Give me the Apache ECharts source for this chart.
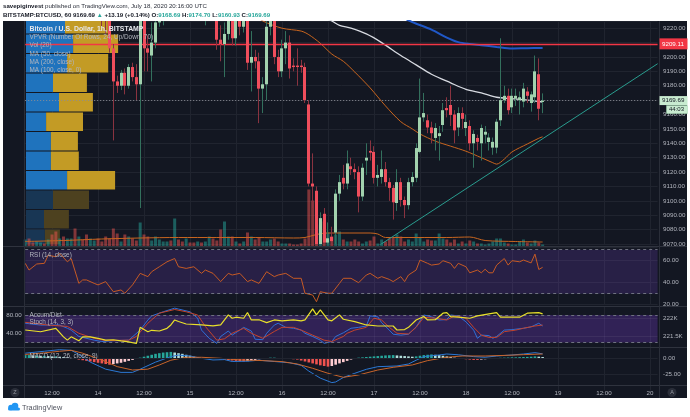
<!DOCTYPE html>
<html><head><meta charset="utf-8">
<script src="https://cdn.jsdelivr.net/npm/echarts@6/dist/echarts.min.js"></script>
<style>html,body{margin:0;padding:0;background:#fff}#c{width:690px;height:417px}</style>
</head><body><div id="c"></div>
<script>
// ---------- DATA ----------
var N_CATS = 166; // hourly bars Jul 13 05:00 .. Jul 20 02:00
var categories = [];
(function(){var t0=Date.UTC(2020,6,13,5);for(var k=0;k<N_CATS;k++){var d=new Date(t0+k*3600000);var h=d.getUTCHours();categories.push(d.getUTCDate()+' '+(h<10?'0':'')+h+':00');}})();

var opens=[9250,9256,9252,9245,9250,9265,9258,9275,9266,9250,9258,9244,9248,9255,9238,9244,9240,9235,9242,9246,
9238,9236,9230,9206,9183,9180,9189,9180,9193,9186,9181,9236,9206,9201,9210,9224,9238,9244,9252,9248,
9276,9268,9260,9265,9252,9246,9250,9238,9240,9246,9232,9212,9209,9216,9228,9213,9228,9221,9230,9196,
9200,9197,9178,9181,9221,9232,9200,9190,9206,9210,9194,9194,9194,9193,9167,9112,9107,9066,9091,9071,
9075,9078,9105,9116,9112,9124,9122,9120,9103,9128,9134.7,9134,9116,9116.6,9122,9113,9109,9098.5,9113,9100.6,
9097,9113,9116,9134,9158,9156,9151,9143.7,9145,9152.7,9164.5,9166.6,9160,9151,9161,9150.6,9152,9140,9143.7,9140,
9146,9140.9,9137,9137,9156,9170,9173,9165,9171,9170,9169,9176,9168,9172,9188,9168.69];
var highs=[9262,9265,9258,9255,9270,9272,9280,9285,9270,9262,9265,9252,9260,9258,9248,9250,9246,9245,9250,9250,
9245,9240,9234,9209,9187,9191,9192,9195,9196,9195,9242,9240,9215,9224,9232,9245,9250,9256,9262,9280,
9285,9275,9270,9268,9258,9255,9256,9245,9250,9252,9240,9222,9224,9234,9236,9234,9235,9238,9235,9218,
9205,9203,9186,9226,9240,9236,9205,9212,9218,9215,9199,9206,9198,9196,9170,9133,9110,9092,9095,9085,
9082,9108,9118,9125,9135,9130,9126,9124,9126,9140,9142,9138,9125,9135,9127,9116,9111,9122,9116,9103,
9116,9120,9140,9185,9175,9160,9155,9154,9152,9168,9172,9180,9163,9165,9165,9160,9156,9149,9146,9153,
9152,9147,9144,9157,9213,9180,9178,9178,9178,9176,9182,9179,9176,9201,9199,9174.70];
var lows=[9244,9248,9240,9238,9246,9255,9255,9262,9245,9244,9240,9236,9242,9232,9233,9236,9230,9232,9238,9234,
9221,9216,9203,9142,9175,9177,9174,9178,9183,9170,9095,9190,9190,9183,9206,9221,9222,9238,9244,9245,
9262,9255,9252,9248,9240,9238,9232,9222,9230,9225,9205,9197,9186,9212,9208,9208,9215,9217,9191,9176,
9192,9154,9161,9170,9215,9195,9186,9186,9195,9185,9190,9180,9189,9168,9110,9095,9060,9058,9065,9062,
9066,9070,9100,9108,9108,9118,9115,9092,9100,9118,9128,9112,9110,9112,9110,9100,9087,9093,9096,9088,
9094,9110,9113,9133,9155,9147,9140,9135,9128,9148,9158,9152,9140,9145,9150,9145,9135,9123,9135,9128,
9140,9135,9132,9133,9152,9168,9160,9161,9166,9160,9165,9168,9162,9168,9156,9160.93];
var closes=[9256,9252,9245,9250,9265,9258,9275,9266,9250,9258,9244,9248,9255,9238,9244,9240,9235,9242,9246,9238,
9236,9230,9206,9183,9180,9189,9180,9193,9186,9181,9236,9206,9203,9210,9224,9238,9244,9252,9248,9276,
9268,9260,9265,9252,9246,9250,9238,9240,9246,9232,9212,9209,9216,9228,9213,9228,9221,9230,9196,9200,
9197,9178,9181,9221,9232,9200,9190,9206,9210,9192,9193,9193,9193,9170,9112,9110,9066,9088,9071,9074,
9072,9105,9113,9112,9126,9122,9120,9103,9123,9130,9133.5,9116,9118,9122,9113,9109,9099,9113,9100.6,9097,
9113,9116.6,9136.7,9158,9161,9151,9147,9150.6,9147,9163,9163,9159.7,9149,9161,9157,9154.8,9140,9146.5,9141,9150.6,
9148,9144,9141,9155,9170,9173,9163,9173,9173,9172,9178,9173,9174,9190,9164,9169.69];
var volumes=[140,160,80,100,80,60,140,240,300,160,200,160,160,360,200,140,240,160,120,160,
100,200,160,360,260,100,240,200,160,120,480,240,200,120,200,140,100,100,120,560,
140,100,160,80,80,100,80,100,200,160,120,340,500,200,200,100,
60,100,280,200,140,180,100,100,140,160,100,60,60,60,40,40,60,160,1140,920,
960,440,500,280,200,240,300,140,100,100,140,100,60,100,120,200,60,140,100,160,
180,240,200,100,140,100,260,180,100,140,120,120,260,160,140,80,140,60,100,60,
120,100,60,60,40,60,100,160,160,80,60,40,40,100,140,80,60,120,80,40];
var volMAPoints=[[0,100],[10,120],[20,150],[30,170],[40,180],[50,180],[60,180],[70,170],[73,180],[76,240],[79,270],[90,270],[92,250],[94,180],[110,180],[116,190],[120,120],[128,100],[135,90]];
var ma50Points=[[50,9240],[58,9232],[62,9225],[67,9220],[72,9218],[74,9215.5],[77,9209.5],[80,9202],[83,9197],[86,9189.5],[90,9178.5],[94,9166],[98,9155],[101,9150],[103,9146.5],[107,9141.5],[111,9138],[115,9134.5],[119,9130],[122,9126.5],[123,9125.5],[125,9129],[127,9134],[131,9139.5],[134,9143.5],[135,9144.5]];
var ma100Points=[[74,9232],[80,9225],[82,9222],[85,9220],[89,9216],[93,9210],[98,9201],[102,9194.5],[106,9188],[111,9182],[115,9177.5],[119,9175],[123,9172],[127,9171],[131,9170],[135,9168.7]];
var ma200Points=[[96,9232],[100,9225.5],[106,9219],[110,9213.5],[113,9210.3],[116,9209],[119,9208.2],[123,9207],[127,9205.9],[131,9206.1],[135,9206.2]];
var trendPoints=[[92,9068.4],[165,9195.3]];
var resistanceLevel=9209.11, lastPrice=9169.69, countdown='44:03';

var vpvrRowLow=[9215.96,9202.41,9188.86,9175.30,9161.75,9148.20,9134.65,9121.09,9107.54,9093.99,9080.43,9066.88];
var vpvrRowSize=13.55;
var vpvrUp=[13,15.7,13.7,9,11,6.7,8.3,8.3,13.7,9,6,6.3];
var vpvrDown=[14.3,15,13.7,11.3,11.3,12.3,9,9.3,16,12,8.3,5];
var vpvrInValueArea=[1,1,1,1,1,1,1,1,1,0,0,0];

var rsiPoints=[[0,57.6],[1,51.5],[3,57],[5,57.6],[6,65],[8,63.6],[9,66.7],[11,59],[12,62],[14,39.4],[15,42.5],[16,42.5],[18,39.4],[19,38],[21,41],[23,31.8],[25,33.4],[26,30.4],[28,38],[30,48.5],[32,45.5],[33,50],[35,54.5],[37,59],[39,62],[40,54.5],[42,53],[44,54.5],[46,48.5],[47,51.5],[49,48.5],[51,41],[53,48.5],[54,47],[56,48.5],[58,41],[59,42.5],[61,39.4],[63,50],[65,45.5],[66,47],[68,48.5],[70,44],[72,44],[73,30.4],[75,28.8],[76,22.7],[77,31.8],[79,30.4],[80,30.4],[82,39.4],[83,44],[85,44],[87,40],[89,47],[90,48.5],[92,44],[93,45.5],[95,43],[96,41],[98,45.5],[99,41],[100,47],[102,51.5],[103,60.6],[105,57.6],[106,56],[108,57],[109,60],[111,57.6],[112,53],[113,57.6],[115,54.5],[116,49],[118,51.5],[119,49],[120,52.2],[121,49],[122,49],[123,56],[125,62],[126,56],[127,60],[129,59],[130,60.6],[132,58],[133,66],[134,52],[135,54]];
var stochKPoints=[[0,62],[4,58],[9,58],[11,51],[12,47],[14,33],[18,25],[20,22],[23,24],[27,25],[30,47],[32,69],[33,78],[36,87],[39,95],[40,93],[43,87],[45,73],[46,47],[48,29],[50,18],[51,33],[53,45],[54,36],[56,47],[57,53],[59,45],[60,27],[62,26],[63,40],[65,58],[66,62],[68,53],[70,51],[72,47],[73,40],[75,33],[77,25],[78,18],[80,22],[81,33],[83,41],[85,51],[87,53],[89,56],[90,78],[92,76],[93,63],[95,47],[96,38],[98,36],[100,38],[102,54],[104,80],[106,76],[108,69],[110,70],[111,80],[113,78],[115,65],[117,47],[118,29],[119,36],[121,35],[122,29],[123,33],[125,47],[127,48],[130,51],[132,54],[134,62],[135,56]];
var stochDPoints=[[0,64],[6,58],[11,55],[14,40],[18,29],[21,24],[27,25],[29,33],[32,62],[35,84],[39,92],[42,87],[45,80],[47,55],[50,25],[52,28],[54,40],[57,51],[59,40],[62,29],[65,44],[67,53],[70,53],[72,47],[75,36],[78,25],[80,22],[83,33],[84,40],[86,47],[89,53],[91,73],[93,69],[95,53],[97,40],[100,38.5],[102,53],[104,75],[107,73],[110,69],[112,78],[115,73],[117,53],[119,36],[121,31],[123,31],[125,43.5],[128,47],[130,51],[133,56],[135,58]];
var adPoints=[[0,221667],[4,221620],[8,221714],[10,221480],[11,221389],[12,221480],[14,221370],[15,221480],[17,221480],[19,221440],[21,221389],[23,221400],[25,221370],[27,221343],[29,221296],[30,221741],[32,221620],[33,221660],[35,221640],[37,221714],[38,221806],[39,221944],[40,221900],[42,221833],[46,221806],[49,221780],[51,221806],[53,222083],[54,221990],[55,222019],[57,221991],[58,222147],[59,221944],[61,221950],[63,221870],[65,221944],[67,221920],[70,221944],[72,221917],[73,221944],[75,222250],[76,222083],[77,222222],[79,221944],[80,221920],[82,222083],[83,221963],[86,221898],[89,221806],[92,221778],[96,221778],[97,221667],[99,221680],[100,221741],[102,221944],[104,222037],[105,221944],[107,221950],[109,222130],[110,222147],[111,222037],[113,222019],[116,221991],[118,222056],[121,222111],[123,222147],[124,222019],[127,222019],[129,222019],[131,222130],[134,222147],[135,222111]];
var macdPoints=[[0,8],[5,11],[9,13.5],[12,12.5],[14,6],[17,-6],[21,-17],[25,-22],[28,-22],[30,-17],[34,-6],[38,2.6],[40,5],[43,3.5],[46,0],[49,-2.6],[52,-2],[54,-5],[58,-4.5],[61,-3],[65,-5],[69,-7],[72,-11],[74,-20],[77,-31],[80,-38],[81,-37],[83,-30],[86,-23.4],[89,-17.2],[92,-13.1],[97,-12],[100,-8.9],[102,-3],[104,2.6],[108,5.2],[110,6.7],[113,5.5],[117,2.6],[120,1.6],[123,3.6],[127,5.2],[130,6.7],[133,8.8],[135,7]];
var signalPoints=[[0,6],[5,8.5],[9,11],[12,12.5],[15,8],[20,-2.6],[24,-13],[28,-18.3],[32,-17],[35,-10.4],[38,-3],[42,1.6],[46,1.6],[51,0],[56,-2.6],[62,-3.6],[67,-5.2],[71,-8.9],[75,-15.6],[79,-23.4],[83,-29.7],[87,-26],[92,-18.3],[96,-14.1],[101,-10.4],[105,-3.6],[110,1.6],[114,3.6],[120,3.6],[126,4.7],[130,5.7],[135,6.7]];
var macdHist=[5,5,4.5,4.5,4,4,3.5,3,3,2.5,2,1.5,0.5,
-1,-2,-3,-4,-5,-6,-7,-8,-9,-10,
-9,-8,-7,-5.5,-4,-2.5,-1,
1,2.5,4,5.5,7,8,9,9.5,10,
9,8,7,5.5,4,2.5,1,
0.5,0.3,-0.3,-0.5,
-1,-1.5,-2,-3,-3.5,-4,-4.5,-5,
-4.5,-3.5,-2.5,-1.5,-0.5,
0.5,1,1,0.5,0.3,-0.5,-1,-1.5,
-2,-3.5,-5,-6.5,-8,-9.5,-11,-12,-13,
-12,-10,-8,-6,-4,-2,
0.5,1,1.5,2,2.5,3,3.5,4,4.5,4.8,5,
4.5,4,3.5,3,2.5,
3,4,5,5.5,6,
5.5,5,4,3,2,1,
-0.5,-1,-1.5,-2,-2.5,-2.5,
-2,-1.5,-1,-0.5,
0.3,0.8,1,1.2,1.5,1.5,1.8,2,2.2,2.5,3,2.5,2];

// ---------- BUILD ----------
var FONT='"Liberation Sans", Arial, sans-serif';
var AX='#b2b5be', GRIDC='#20242f';
function sparse(pts){var a=[];for(var k=0;k<N_CATS;k++)a.push(null);pts.forEach(function(p){a[p[0]]=p[1];});return a;}
function isMajor(v){var h=v.split(' ')[1];return h==='00:00'||h==='12:00';}
function timeFmt(v){var p=v.split(' ');return p[1]==='00:00'?p[0]:(p[1]==='12:00'?'12:00':'');}

var candleData=opens.map(function(o,i){return [i,o,closes[i],lows[i],highs[i]];});
var volData=volumes.map(function(v,i){return {value:v,itemStyle:{color:closes[i]>=opens[i]?'rgba(38,166,154,0.5)':'rgba(239,83,80,0.5)'}};});
var vpvrData=vpvrRowLow.map(function(lo,k){return [lo,lo+vpvrRowSize,vpvrUp[k],vpvrDown[k],vpvrInValueArea[k]];});
var histData=macdHist.map(function(v,i){var p=i>0?macdHist[i-1]:v;var c=v>=0?(v>=p?'#26a69a':'#b2dfdb'):(v<=p?'#ef5350':'#ffcdd2');return {value:v,itemStyle:{color:c}};});

var L=25.2,W=632.4;
function g(top,h){return {left:L,width:W,top:top,height:h,containLabel:false,outerBoundsMode:'none'};}
function catAxis(gi,split){return {type:'category',gridIndex:gi,data:categories,boundaryGap:false,axisLine:{show:false},axisTick:{show:false},axisLabel:{show:false},splitLine:{show:!!split,interval:function(i,v){return isMajor(v);},lineStyle:{color:GRIDC,width:1}}};}
function lbl(fmt,extra){var o={color:AX,fontSize:6.2,fontFamily:FONT,formatter:fmt,showMinLabel:true,showMaxLabel:true};for(var k in extra)o[k]=extra[k];return o;}
function rs(bold,color){return {fontWeight:bold?'bold':'normal',fontSize:6.1,lineHeight:7,color:color,fontFamily:FONT};}

var option={
  backgroundColor:'#ffffff',animation:false,
  title:[
    {left:3,top:2.5,padding:0,text:'{b|savepiginvest} {n|published on TradingView.com, July 18, 2020 20:16:00 UTC}',
     textStyle:{lineHeight:7,fontSize:6.1,rich:{b:rs(true,'#131722'),n:rs(false,'#2a2e39')}}},
    {left:3,top:11.5,padding:0,text:'{b|BITSTAMP:BTCUSD, 60} {n|9169.69} {g|▲} {n|+13.19 (+0.14%)} {n|O:}{t|9168.69} {n|H:}{t|9174.70} {n|L:}{t|9160.93} {n|C:}{t|9169.69}',
     textStyle:{lineHeight:7,fontSize:6.1,rich:{b:rs(true,'#131722'),n:rs(true,'#131722'),g:rs(false,'#26a69a'),t:rs(true,'#26a69a')}}}
  ],
  grid:[g(21,223),g(186.5,60),{left:26,width:300,top:21,height:223,containLabel:false,outerBoundsMode:'none'},g(246.95,57.75),g(306.99,40.03),g(342.3,48),g(386,1)],
  xAxis:[catAxis(0,true),catAxis(1,false),{type:'value',gridIndex:2,min:0,max:100,show:false},catAxis(3,true),catAxis(4,true),catAxis(5,true),
    {type:'category',gridIndex:6,data:categories,boundaryGap:false,axisLine:{show:false},axisTick:{show:false},splitLine:{show:false},
     axisLabel:{interval:function(i,v){return isMajor(v);},formatter:timeFmt,color:AX,fontSize:6.2,fontFamily:FONT,margin:3}}],
  yAxis:[
    {type:'value',gridIndex:0,position:'right',min:9070,max:9225,interval:10,axisLine:{show:false},axisTick:{show:false},
     splitLine:{show:true,lineStyle:{color:GRIDC}},axisLabel:lbl(function(v){return (Math.abs(v%10)<1e-6&&v<=9220)?v.toFixed(2):'';},{margin:5.5})},
    {type:'value',gridIndex:1,min:0,max:1200,show:false},
    {type:'value',gridIndex:2,min:9070,max:9225,show:false},
    {type:'value',gridIndex:3,position:'right',min:20,max:72.5,interval:20,axisLine:{show:false},axisTick:{show:false},
     splitLine:{show:true,lineStyle:{color:GRIDC}},axisLabel:lbl(function(v){return (v===20||v===40||v===60)?v.toFixed(2):'';},{margin:5.5})},
    {type:'value',gridIndex:4,position:'left',min:10,max:97.5,interval:10,axisLine:{show:false},axisTick:{show:false},splitLine:{show:false},
     axisLabel:lbl(function(v){return (Math.round(v)===40||Math.round(v)===80)?Math.round(v).toFixed(2):'';},{margin:3.5})},
    {type:'value',gridIndex:4,position:'right',min:221200,max:222300,interval:100,axisLine:{show:false},axisTick:{show:false},splitLine:{show:false},
     axisLabel:lbl(function(v){v=Math.round(v);return v===222000?'222K':(v===221500?'221.5K':'');},{margin:5.5})},
    {type:'value',gridIndex:5,position:'right',min:-50,max:25,interval:25,axisLine:{show:false},axisTick:{show:false},splitLine:{show:false},
     axisLabel:lbl(function(v){return v===0?'0.00':(v===-25?'-25.00':'');},{margin:5.5})},
    {type:'value',gridIndex:6,show:false}
  ],
  series:[
    {name:'VPVR',type:'custom',xAxisIndex:2,yAxisIndex:2,clip:true,z:1,silent:true,data:vpvrData,encode:{x:[2,3],y:[0,1]},
     renderItem:function(params,api){var lo=api.value(0),hi=api.value(1),up=api.value(2),dn=api.value(3),va=api.value(4);
       var p0=api.coord([0,hi]),p1=api.coord([up,lo]),p2=api.coord([up+dn,lo]);var top=p0[1]+0.5,h=p1[1]-p0[1]-1;
       return {type:'group',children:[
         {type:'rect',shape:{x:p0[0],y:top,width:p1[0]-p0[0],height:h},style:{fill:va?'#1f73bd':'#183654'}},
         {type:'rect',shape:{x:p1[0],y:top,width:p2[0]-p1[0],height:h},style:{fill:va?'#c39b25':'#4d411f'}}]};}},
    {name:'Vol',type:'bar',xAxisIndex:1,yAxisIndex:1,barWidth:3,z:2,silent:true,data:volData},
    {name:'VolMA',type:'line',xAxisIndex:1,yAxisIndex:1,data:sparse(volMAPoints),connectNulls:true,symbol:'none',smooth:0.3,z:3,lineStyle:{color:'#c8651f',width:1}},
    {name:'Trend',type:'line',xAxisIndex:0,yAxisIndex:0,data:sparse(trendPoints),connectNulls:true,symbol:'none',z:3,lineStyle:{color:'#2a9d8f',width:1}},
    {name:'Price',type:'custom',xAxisIndex:0,yAxisIndex:0,clip:true,z:5,silent:true,data:candleData,encode:{x:0,y:[1,2,3,4]},
     renderItem:function(params,api){var i=api.value(0),o=api.value(1),c=api.value(2),l=api.value(3),h=api.value(4);
       var pO=api.coord([i,o]),pC=api.coord([i,c]),pL=api.coord([i,l]),pH=api.coord([i,h]);var cx=Math.round(pO[0]-0.5);var up=c>=o;
       var top=Math.min(pO[1],pC[1]),bh=Math.max(1,Math.abs(pO[1]-pC[1]));
       return {type:'group',children:[
         {type:'line',shape:{x1:cx+0.5,y1:pH[1],x2:cx+0.5,y2:pL[1]},style:{stroke:up?'#33705d':'#8a3340',lineWidth:1}},
         {type:'rect',shape:{x:cx-1,y:top,width:3,height:bh},style:{fill:up?'#a2d2ae':'#f04e5c'}}]};}},
    {name:'MA50',type:'line',xAxisIndex:0,yAxisIndex:0,data:sparse(ma50Points),connectNulls:true,symbol:'none',smooth:0.3,z:4,lineStyle:{color:'#c8651f',width:1},
     markLine:{silent:true,symbol:['none','none'],label:{show:false},data:[
       {yAxis:resistanceLevel,lineStyle:{color:'#f23645',width:1.3,type:'solid'}},
       {yAxis:lastPrice,lineStyle:{color:'#8a8d96',width:1,type:[1,2]}}]}},
    {name:'MA200',type:'line',xAxisIndex:0,yAxisIndex:0,data:sparse(ma200Points),connectNulls:true,symbol:'none',smooth:0.3,z:4,lineStyle:{color:'#2058c8',width:2}},
    {name:'MA100',type:'line',xAxisIndex:0,yAxisIndex:0,data:sparse(ma100Points),connectNulls:true,symbol:'none',smooth:0.3,z:4,lineStyle:{color:'#d8dbe2',width:1.3}},
    {name:'RSI',type:'line',xAxisIndex:3,yAxisIndex:3,data:sparse(rsiPoints),connectNulls:true,symbol:'none',z:4,lineStyle:{color:'#c65a24',width:1},
     markArea:{silent:true,itemStyle:{color:'rgba(120,70,200,0.22)'},data:[[{yAxis:30},{yAxis:70}]]},
     markLine:{silent:true,symbol:['none','none'],label:{show:false},lineStyle:{color:'#6f7280',width:1,type:[3,3]},data:[{yAxis:70},{yAxis:30}]}},
    {name:'StochK',type:'line',xAxisIndex:4,yAxisIndex:4,data:sparse(stochKPoints),connectNulls:true,symbol:'none',z:4,lineStyle:{color:'#2e6fd8',width:1},
     markArea:{silent:true,itemStyle:{color:'rgba(120,60,210,0.3)'},data:[[{yAxis:20},{yAxis:80}]]},
     markLine:{silent:true,symbol:['none','none'],label:{show:false},lineStyle:{color:'#6f7280',width:1,type:[3,3]},data:[{yAxis:80},{yAxis:20}]}},
    {name:'StochD',type:'line',xAxisIndex:4,yAxisIndex:4,data:sparse(stochDPoints),connectNulls:true,symbol:'none',z:4,lineStyle:{color:'#c2432c',width:1}},
    {name:'AccumDist',type:'line',xAxisIndex:4,yAxisIndex:5,data:sparse(adPoints),connectNulls:true,symbol:'none',z:5,lineStyle:{color:'#e9e02a',width:1.2},
     markLine:{silent:true,symbol:['none','none'],label:{show:false},lineStyle:{color:'rgba(255,255,255,0.06)',width:1,type:'solid'},data:[{yAxis:222000},{yAxis:221500}]}},
    {name:'Hist',type:'bar',xAxisIndex:5,yAxisIndex:6,barWidth:2.6,z:3,silent:true,data:histData},
    {name:'MACD',type:'line',xAxisIndex:5,yAxisIndex:6,data:sparse(macdPoints),connectNulls:true,symbol:'none',z:4,lineStyle:{color:'#2b78d4',width:1},
     markLine:{silent:true,symbol:['none','none'],label:{show:false},lineStyle:{color:GRIDC,width:1,type:'solid'},data:[{yAxis:0},{yAxis:-25}]}},
    {name:'Signal',type:'line',xAxisIndex:5,yAxisIndex:6,data:sparse(signalPoints),connectNulls:true,symbol:'none',z:4,lineStyle:{color:'#c8642a',width:1}}
  ]
};
var chart=echarts.init(document.getElementById('c'));
chart.setOption(option);

// ---------- overlays ----------
var yRes=chart.convertToPixel({yAxisIndex:0},resistanceLevel);
var yLast=chart.convertToPixel({yAxisIndex:0},lastPrice);
function T(x,y,text,opt){opt=opt||{};return {type:'text',x:x,y:y,z:100,silent:true,style:{text:text,fill:opt.fill||'#b2b5be',font:(opt.bold?'bold ':'')+(opt.size||6.3)+'px '+FONT,textAlign:opt.align||'left',textVerticalAlign:'middle'}};}
function Ln(x1,y1,x2,y2,c){return {type:'line',z:50,silent:true,shape:{x1:x1,y1:y1,x2:x2,y2:y2},style:{stroke:c||'#2f333e',lineWidth:1}};}
var els=[
  {type:'rect',z:-10,silent:true,shape:{x:3,y:21,width:684,height:377},style:{fill:'#131722'}},
  Ln(3,246.5,687,246.5),Ln(3,306.5,687,306.5),Ln(3,347.5,687,347.5),Ln(3,385.5,687,385.5),
  Ln(659.5,21,659.5,398,'#2a2e39'),Ln(24.5,21,24.5,398,'#2a2e39'),
  T(29.5,29,'Bitcoin / U.S. Dollar, 1h, BITSTAMP',{bold:true,fill:'#e6e8ee',size:6.9}),
  T(29.5,37.4,'VPVR (Number Of Rows, 24, Up/Down, 70)',{size:6.4}),
  T(29.5,45.7,'Vol (20)',{size:6.4}),
  T(29.5,54,'MA (50, close)',{size:6.4}),
  T(29.5,62.3,'MA (200, close)',{size:6.4}),
  T(29.5,70.6,'MA (100, close, 0)',{size:6.4}),
  T(29.5,255,'RSI (14, close)',{size:6.4}),
  T(29.5,315,'Accum/Dist',{size:6.4}),
  T(29.5,322.5,'Stoch (14, 3, 3)',{size:6.4}),
  T(29.5,356,'MACD (12, 26, close, 9)',{size:6.4}),
  {type:'rect',z:90,silent:true,shape:{x:659.5,y:yRes-5.5,width:28,height:11},style:{fill:'#f23645'}},
  T(662,yRes,String(resistanceLevel.toFixed(2)),{fill:'#ffffff',size:6.2}),
  {type:'rect',z:90,silent:true,shape:{x:659.5,y:yLast-4.5,width:28,height:9},style:{fill:'#c8ebd0'}},
  T(662,yLast,lastPrice.toFixed(2),{fill:'#131722',size:6.2}),
  {type:'rect',z:90,silent:true,shape:{x:666.5,y:yLast+5,width:21,height:8},style:{fill:'#c8ebd0',stroke:'#9fd4ad',lineWidth:0.5}},
  T(669,yLast+9,countdown,{fill:'#131722',size:6}),
  {type:'circle',z:60,silent:true,shape:{cx:15,cy:392.5,r:4.5},style:{fill:'#2a2e39'}},
  T(15,392.5,'Z',{fill:'#9598a1',size:5.5,align:'center'}),
  {type:'circle',z:60,silent:true,shape:{cx:672,cy:392.5,r:4.5},style:{fill:'#2a2e39'}},
  T(672,392.5,'A',{fill:'#9598a1',size:5.5,align:'center'}),
  {type:'circle',z:60,silent:true,shape:{cx:11,cy:407.5,r:2.8},style:{fill:'#2196f3'}},
  {type:'circle',z:60,silent:true,shape:{cx:15,cy:406,r:3.3},style:{fill:'#2196f3'}},
  {type:'rect',z:60,silent:true,shape:{x:8,y:407.5,width:12,height:3,r:1.5},style:{fill:'#2196f3'}},
  T(22,408,'TradingView',{fill:'#50535e',size:7.3})
];
chart.setOption({graphic:{elements:els}});
</script></body></html>
